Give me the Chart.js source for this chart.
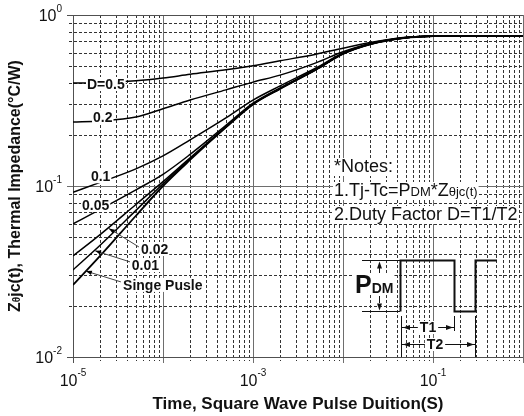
<!DOCTYPE html>
<html>
<head>
<meta charset="utf-8">
<script src="https://cdn.jsdelivr.net/npm/chart.js@4.4.1/dist/chart.umd.min.js"></script>
<style>
  html, body { margin: 0; padding: 0; background: #fff; }
  canvas { display: block; }
</style>
</head>
<body>
<canvas id="chart" width="524" height="416"></canvas>
<script>
// pulse duration (s)
const TIME = [1e-5, 2e-5, 5e-5, 1e-4, 2e-4, 5e-4, 1e-3, 2e-3, 5e-3, 1e-2, 2e-2, 5e-2, 1e-1, 2e-1, 5e-1, 1];

// thermal impedance (°C/W)
const D050 = [0.400, 0.402, 0.412, 0.428, 0.450, 0.478, 0.505, 0.540, 0.590, 0.640, 0.690, 0.740, 0.752, 0.755, 0.755, 0.755];
const D020 = [0.237, 0.240, 0.253, 0.283, 0.318, 0.365, 0.405, 0.445, 0.525, 0.610, 0.682, 0.738, 0.752, 0.755, 0.755, 0.755];
const D010 = [0.092, 0.105, 0.126, 0.150, 0.186, 0.250, 0.318, 0.385, 0.490, 0.600, 0.678, 0.737, 0.752, 0.755, 0.755, 0.755];
const D005 = [0.060, 0.073, 0.095, 0.117, 0.153, 0.226, 0.305, 0.375, 0.482, 0.595, 0.676, 0.737, 0.752, 0.755, 0.755, 0.755];
const D002 = [0.039, 0.052, 0.078, 0.106, 0.146, 0.222, 0.302, 0.372, 0.480, 0.594, 0.675, 0.736, 0.752, 0.755, 0.755, 0.755];
const D001 = [0.0323, 0.045, 0.072, 0.103, 0.144, 0.221, 0.301, 0.371, 0.479, 0.593, 0.675, 0.736, 0.752, 0.755, 0.755, 0.755];
const SINGLE = [0.0264, 0.039, 0.067, 0.100, 0.142, 0.220, 0.300, 0.370, 0.478, 0.592, 0.674, 0.736, 0.752, 0.755, 0.755, 0.755];

const SERIES = [D050, D020, D010, D005, D002, D001, SINGLE];
const SERIES_NAMES = ["D=0.5", "0.2", "0.1", "0.05", "0.02", "0.01", "Singe Pusle"];

const X_LABEL_EXP = [-5, -3, -1];
const Y_LABEL_EXP = [0, -1, -2];

// curve labels: [text, t, Z] (left edge, vertical middle)
const CURVE_LABELS = [
  ["D=0.5", 1.43e-5, 0.395],
  ["0.2", 1.67e-5, 0.253],
  ["0.1", 1.58e-5, 0.114],
  ["0.05", 1.26e-5, 0.0774],
  ["0.02", 5.7e-5, 0.0428],
  ["0.01", 4.5e-5, 0.0345],
  ["Singe Pusle", 3.6e-5, 0.0264],
];
// leaders: [fromT, fromZ, tipT, tipZ]
const LEADERS = [
  [5.4e-5, 0.044, 2.5e-5, 0.0565],
  [4.3e-5, 0.036, 1.76e-5, 0.0418],
  [3.4e-5, 0.0275, 1.39e-5, 0.0318],
];

const FONT = '"Liberation Sans", Arial, sans-serif';

function gridValues(lo, hi) {
  const out = [];
  for (let e = lo; e < hi; e++) {
    for (let m = 1; m <= 9; m++) out.push({ v: m * Math.pow(10, e), major: m === 1 });
  }
  out.push({ v: Math.pow(10, hi), major: true });
  return out;
}

function whiteBox(ctx, x, y, w, h) {
  ctx.fillStyle = "#fff";
  ctx.fillRect(x, y, w, h);
}

// draws a run of [text, font] pieces on one baseline, returns end x
function drawRuns(ctx, runs, x, y) {
  for (const [txt, font] of runs) {
    ctx.font = font;
    ctx.fillText(txt, x, y);
    x += ctx.measureText(txt).width;
  }
  return x;
}
function runsWidth(ctx, runs) {
  let w = 0;
  for (const [txt, font] of runs) { ctx.font = font; w += ctx.measureText(txt).width; }
  return w;
}

function arrowHead(ctx, x, y, dx, dy, len, half) {
  const n = Math.hypot(dx, dy);
  const ux = dx / n, uy = dy / n;
  ctx.beginPath();
  ctx.moveTo(x, y);
  ctx.lineTo(x - ux * len - uy * half, y - uy * len + ux * half);
  ctx.lineTo(x - ux * len + uy * half, y - uy * len - ux * half);
  ctx.closePath();
  ctx.fill();
}

const gridPlugin = {
  id: "logGrid",
  beforeDatasetsDraw(chart) {
    const { ctx, chartArea: a, scales: { x, y } } = chart;
    ctx.save();
    ctx.lineWidth = 1;
    const xs = gridValues(-5, 0).map(g => ({ p: Math.round(x.getPixelForValue(g.v)) + 0.5, major: g.major }));
    const ys = gridValues(-2, 0).map(g => ({ p: Math.round(y.getPixelForValue(g.v)) + 0.5, major: g.major }));

    // minor dashed
    ctx.strokeStyle = "#333";
    ctx.setLineDash([3, 2]);
    ctx.beginPath();
    for (const g of xs) if (!g.major) { ctx.moveTo(g.p, a.top); ctx.lineTo(g.p, a.bottom + 4); }
    for (const g of ys) if (!g.major) { ctx.moveTo(a.left - 4, g.p); ctx.lineTo(a.right, g.p); }
    ctx.stroke();

    // decades solid
    ctx.setLineDash([]);
    ctx.strokeStyle = "#6e6e6e";
    ctx.beginPath();
    for (const g of xs) if (g.major) { ctx.moveTo(g.p, a.top); ctx.lineTo(g.p, a.bottom + 6); }
    for (const g of ys) if (g.major) { ctx.moveTo(a.left - 6, g.p); ctx.lineTo(a.right, g.p); }
    ctx.stroke();

    // axes
    ctx.strokeStyle = "#505050";
    ctx.beginPath();
    ctx.moveTo(xs[0].p, a.top); ctx.lineTo(xs[0].p, a.bottom + 6);
    ctx.moveTo(a.left - 6, ys[0].p); ctx.lineTo(a.right, ys[0].p);
    ctx.moveTo(a.left - 6, ys[ys.length - 1].p); ctx.lineTo(a.right, ys[ys.length - 1].p);
    ctx.stroke();

    // tick labels 10^n
    ctx.fillStyle = "#111";
    ctx.textBaseline = "alphabetic";
    ctx.textAlign = "left";
    const big = "16px " + FONT, sup = "10px " + FONT;
    for (const e of X_LABEL_EXP) {
      const px = x.getPixelForValue(Math.pow(10, e));
      ctx.font = big; const w1 = ctx.measureText("10").width;
      ctx.font = sup; const w2 = ctx.measureText(String(e)).width;
      const x0 = px - (w1 + w2) / 2;
      ctx.font = big; ctx.fillText("10", x0, a.bottom + 29);
      ctx.font = sup; ctx.fillText(String(e), x0 + w1, a.bottom + 19);
    }
    for (const e of Y_LABEL_EXP) {
      const py = y.getPixelForValue(Math.pow(10, e));
      ctx.font = big; const w1 = ctx.measureText("10").width;
      ctx.font = sup; const w2 = ctx.measureText(String(e)).width;
      const x0 = a.left - 11 - w1 - w2;
      ctx.font = big; ctx.fillText("10", x0, py + 6);
      ctx.font = sup; ctx.fillText(String(e), x0 + w1, py - 3);
    }
    ctx.restore();
  },

  afterDatasetsDraw(chart) {
    const { ctx, chartArea: a, scales: { x, y } } = chart;
    ctx.save();
    ctx.fillStyle = "#111";
    ctx.strokeStyle = "#111";
    ctx.textAlign = "left";
    const bold14 = "bold 14px " + FONT;

    // leaders with arrow tips on the curves
    ctx.lineWidth = 1;
    for (const [ft, fz, tt, tz] of LEADERS) {
      const x1 = x.getPixelForValue(ft), y1 = y.getPixelForValue(fz);
      const x2 = x.getPixelForValue(tt), y2 = y.getPixelForValue(tz);
      ctx.strokeStyle = "#444";
      ctx.beginPath(); ctx.moveTo(x1, y1); ctx.lineTo(x2, y2); ctx.stroke();
      ctx.fillStyle = "#000";
      arrowHead(ctx, x2, y2, x2 - x1, y2 - y1, 6, 2.2);
    }

    // curve labels
    ctx.textBaseline = "middle";
    ctx.font = bold14;
    for (const [txt, t, z] of CURVE_LABELS) {
      const px = x.getPixelForValue(t), py = y.getPixelForValue(z);
      const w = ctx.measureText(txt).width;
      whiteBox(ctx, px - 1, py - 7, w + 2, 14);
      ctx.fillStyle = "#111";
      ctx.fillText(txt, px, py + 1);
    }

    // notes
    ctx.textBaseline = "alphabetic";
    const n18 = "18px " + FONT, n13 = "13px " + FONT;
    const notes = [
      [["*Notes:", n18]],
      [["1.Tj-Tc=P", n18], ["DM", n13], ["*Z", n18], ["\u03b8jc(t)", n13]],
      [["2.Duty Factor D=T1/T2", n18]],
    ];
    const nx = 334, nBase = [172, 196, 220];
    notes.forEach((runs, i) => {
      const w = runsWidth(ctx, runs);
      whiteBox(ctx, nx - 1, nBase[i] - 14, w + 2, 18);
      ctx.fillStyle = "#111";
      drawRuns(ctx, runs, nx, nBase[i]);
    });

    // pulse train sketch
    const top = 260.5, bot = 311.5;
    ctx.strokeStyle = "#111";
    ctx.lineWidth = 1;
    ctx.beginPath();
    ctx.moveTo(362, top); ctx.lineTo(400, top);
    ctx.moveTo(362, bot); ctx.lineTo(400, bot);
    ctx.moveTo(401.5, 316); ctx.lineTo(401.5, a.bottom);
    ctx.moveTo(454.5, 316); ctx.lineTo(454.5, 331);
    ctx.moveTo(475.5, 316); ctx.lineTo(475.5, a.bottom);
    ctx.stroke();
    ctx.lineWidth = 2;
    ctx.beginPath();
    ctx.moveTo(400.5, bot); ctx.lineTo(400.5, top); ctx.lineTo(454.5, top); ctx.lineTo(454.5, bot);
    ctx.lineTo(475.5, bot); ctx.lineTo(475.5, top); ctx.lineTo(497, top);
    ctx.stroke();

    // PDM label + arrows
    const pRuns = [["P", "bold 25px " + FONT], ["DM", "bold 14px " + FONT]];
    const pw = runsWidth(ctx, pRuns);
    whiteBox(ctx, 354, 273, pw + 2, 22);
    ctx.fillStyle = "#111";
    drawRuns(ctx, pRuns, 355, 293);
    ctx.lineWidth = 1;
    ctx.beginPath();
    ctx.moveTo(379.5, 268); ctx.lineTo(379.5, 273);
    ctx.moveTo(379.5, 296); ctx.lineTo(379.5, 303);
    ctx.stroke();
    arrowHead(ctx, 379.5, top + 1, 0, -1, 7, 2.5);
    arrowHead(ctx, 379.5, bot - 1, 0, 1, 7, 2.5);

    // T1 / T2 spans
    const spans = [["T1", 402, 454, 327], ["T2", 402, 475, 344]];
    for (const [lab, x1, x2, yy] of spans) {
      ctx.lineWidth = 1;
      ctx.beginPath(); ctx.moveTo(x1, yy + 0.5); ctx.lineTo(x2, yy + 0.5); ctx.stroke();
      arrowHead(ctx, x1 + 1, yy + 0.5, -1, 0, 7, 2.5);
      arrowHead(ctx, x2 - 1, yy + 0.5, 1, 0, 7, 2.5);
      ctx.font = bold14;
      const w = ctx.measureText(lab).width;
      const cx = lab === "T1" ? 428 : 435;
      whiteBox(ctx, cx - w / 2 - 2, yy - 6, w + 4, 13);
      ctx.fillStyle = "#111";
      ctx.textBaseline = "middle";
      ctx.fillText(lab, cx - w / 2, yy + 1);
      ctx.textBaseline = "alphabetic";
    }

    // axis titles
    ctx.fillStyle = "#111";
    ctx.font = "bold 17px " + FONT;
    ctx.textAlign = "center";
    ctx.fillText("Time, Square Wave Pulse Duition(S)", (a.left + a.right) / 2, 409);

    ctx.textAlign = "left";
    const yRuns = [["Z", "bold 16px " + FONT], ["\u03b8", "bold 10px " + FONT], ["jc(t), Thermal Impedance(\u00b0C/W)", "bold 16px " + FONT]];
    const yw = runsWidth(ctx, yRuns);
    ctx.translate(20, (a.top + a.bottom) / 2);
    ctx.rotate(-Math.PI / 2);
    drawRuns(ctx, yRuns, -yw / 2, 0);
    ctx.restore();
  },
};

new Chart(document.getElementById("chart"), {
  type: "line",
  data: {
    datasets: SERIES.map((vals, i) => ({
      label: SERIES_NAMES[i],
      data: TIME.map((t, k) => ({ x: t, y: vals[k] })),
      borderColor: "#000",
      borderWidth: i === 6 ? 1.8 : 1.5,
      pointRadius: 0,
      fill: false,
      cubicInterpolationMode: "monotone",
    })),
  },
  options: {
    responsive: false,
    animation: false,
    devicePixelRatio: 1,
    layout: { padding: { left: 0, top: 15, right: 1, bottom: 0 } },
    plugins: { legend: { display: false }, tooltip: { enabled: false } },
    scales: {
      x: {
        type: "logarithmic",
        min: 1e-5,
        max: 1,
        grid: { display: false },
        border: { display: false },
        ticks: { display: false },
        afterFit: (s) => { s.height = 59; },
      },
      y: {
        type: "logarithmic",
        min: 1e-2,
        max: 1,
        grid: { display: false },
        border: { display: false },
        ticks: { display: false },
        afterFit: (s) => { s.width = 73; },
      },
    },
  },
  plugins: [gridPlugin],
});
</script>
</body>
</html>
